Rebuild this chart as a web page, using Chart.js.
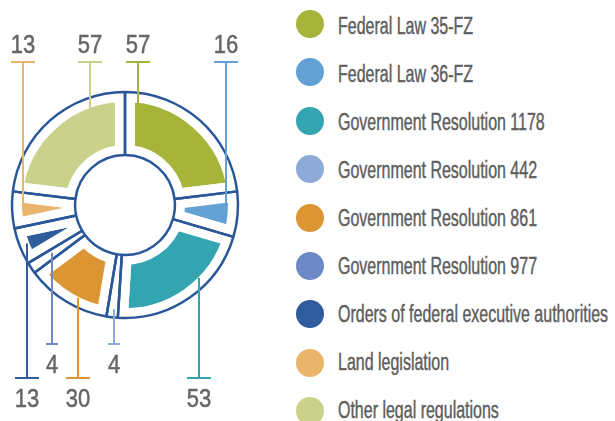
<!DOCTYPE html>
<html>
<head>
<meta charset="utf-8">
<script src="https://cdn.jsdelivr.net/npm/chart.js@4.4.0/dist/chart.umd.min.js"></script>
<style>
  html, body { margin: 0; padding: 0; background: #fff; }
  #wrap { position: relative; width: 615px; height: 421px; overflow: hidden; }
  #wrap canvas { position: absolute; left: 0; top: 0; }
  .leg-dot { position: absolute; width: 28px; height: 28px; border-radius: 50%; }
  .leg-txt {
    position: absolute; left: 338px; white-space: nowrap;
    font-family: "Liberation Sans", Arial, sans-serif; font-size: 23px; line-height: 23px;
    color: #5e5e5e; -webkit-text-stroke: 0.45px #5e5e5e;
    transform: scaleX(0.695); transform-origin: 0 0;
  }
</style>
</head>
<body>
<div id="wrap">
  <canvas id="fills" width="250" height="421"></canvas>
  <canvas id="rings" width="250" height="421"></canvas>
  <div id="legend"></div>
</div>
<script>
const labels = [
  'Federal Law 35-FZ',
  'Federal Law 36-FZ',
  'Government Resolution 1178',
  'Government Resolution 442',
  'Government Resolution 861',
  'Government Resolution 977',
  'Orders of federal executive authorities',
  'Land legislation',
  'Other legal regulations'
];
const values = [57, 16, 53, 4, 30, 4, 13, 13, 57];
const colors = ['#a7b43a', '#63a1d5', '#33a5b1', '#8eaad9', '#db9533', '#6c89c5', '#2f5c9d', '#e8b56b', '#c9d18a'];

const ringBlue = '#2a5799';

// where each leader line sits (fraction along the arc, radius, cap line y)
const leaderLayout = [
  { frac: 0.09, r: 103, cap: 62, w: 24, side: 'top' },
  { frac: 0.6, r: 102, cap: 62, w: 24, side: 'top' },
  { frac: 0.365, r: 104, cap: 378, w: 24, side: 'bottom' },
  { frac: 0.45, r: 105, cap: 344, w: 12, side: 'bottom' },
  { frac: 0.4, r: 104, cap: 378, w: 24, side: 'bottom' },
  { frac: 0.6, r: 87, cap: 344, w: 12, side: 'bottom' },
  { frac: 0.5, r: 105, cap: 378, w: 24, side: 'bottom' },
  { frac: 0.55, r: 102, cap: 62, w: 24, side: 'top' },
  { frac: 0.76, r: 103, cap: 62, w: 24, side: 'top' }
];

const leaderPlugin = {
  id: 'leaders',
  afterDatasetsDraw(chart) {
    const ctx = chart.ctx;
    const arcs = chart.getDatasetMeta(0).data;
    arcs.forEach((arc, i) => {
      const p = arc.getProps(['x', 'y', 'startAngle', 'endAngle'], true);
      const l = leaderLayout[i];
      const a = p.startAngle + l.frac * (p.endAngle - p.startAngle);
      const x = Math.round(p.x + l.r * Math.cos(a));
      const y = p.y + l.r * Math.sin(a);
      ctx.save();
      ctx.strokeStyle = colors[i];
      ctx.lineWidth = 2;
      ctx.beginPath();
      ctx.moveTo(x, y);
      ctx.lineTo(x, l.cap);
      ctx.moveTo(x - l.w / 2, l.cap);
      ctx.lineTo(x + l.w / 2, l.cap);
      ctx.stroke();
      const base = l.side === 'top' ? l.cap - 9 : l.cap + 29;
      ctx.fillStyle = '#666666';
      ctx.strokeStyle = '#666666';
      ctx.lineWidth = 0.5;
      ctx.font = '25px "Liberation Sans", Arial, sans-serif';
      ctx.textAlign = 'center';
      ctx.textBaseline = 'alphabetic';
      ctx.translate(x, base);
      ctx.scale(0.88, 1);
      ctx.fillText(String(values[i]), 0, 0);
      ctx.strokeText(String(values[i]), 0, 0);
      ctx.restore();
    });
  }
};

const common = {
  responsive: false,
  animation: false,
  radius: 113,
  cutout: '44.2%',
  layout: { padding: { bottom: 11 } },
  plugins: { legend: { display: false }, tooltip: { enabled: false } },
  events: []
};

// coloured pieces, white borders cut the gaps
new Chart(document.getElementById('fills'), {
  type: 'doughnut',
  data: {
    labels: labels,
    datasets: [{
      data: values,
      backgroundColor: colors,
      borderColor: '#ffffff',
      borderWidth: 20,
      borderAlign: 'center'
    }]
  },
  options: common
});

// blue cell outlines + value labels
new Chart(document.getElementById('rings'), {
  type: 'doughnut',
  data: {
    labels: labels,
    datasets: [{
      data: values,
      backgroundColor: 'rgba(0,0,0,0)',
      borderColor: ringBlue,
      borderWidth: 2.5,
      borderAlign: 'center'
    }]
  },
  options: common,
  plugins: [leaderPlugin]
});

// legend
const legend = document.getElementById('legend');
labels.forEach((name, i) => {
  const dot = document.createElement('div');
  dot.className = 'leg-dot';
  dot.style.left = '296px';
  dot.style.top = (24 + i * 48.4 - 14) + 'px';
  dot.style.background = colors[i];
  legend.appendChild(dot);
  const txt = document.createElement('div');
  txt.className = 'leg-txt';
  txt.style.top = (34.3 + i * 48 - 19.5) + 'px';
  txt.textContent = name;
  legend.appendChild(txt);
});
</script>
</body>
</html>
